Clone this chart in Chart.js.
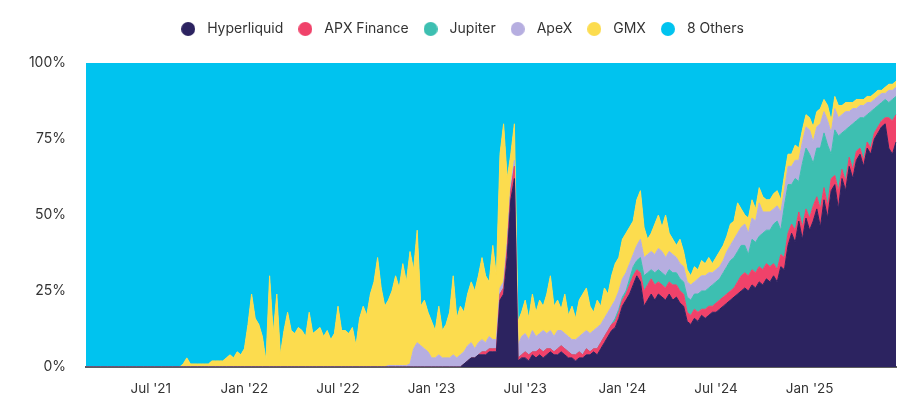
<!DOCTYPE html>
<html>
<head>
<meta charset="utf-8">
<title>Perp DEX volume share</title>
<script src="https://cdn.jsdelivr.net/npm/chart.js@4.4.1/dist/chart.umd.min.js"></script>
<style>
  html, body { margin: 0; padding: 0; background: #fff; }
  #wrap { width: 922px; height: 399px; }
</style>
</head>
<body>
<div id="wrap"><canvas id="share-chart"></canvas></div>
<script>
// weekly points, first one is the week of 2021-02-25
const startWeek = '2021-02-25'

const seriesNames = ['Hyperliquid', 'APX Finance', 'Jupiter', 'ApeX', 'GMX', '8 Others']
const seriesColors = ['#2c2360', '#f0426a', '#3dbfb1', '#b6aee0', '#fcdc4e', '#00c3ef']

const tickDates = ['2021-07-01', '2022-01-01', '2022-07-01', '2023-01-01', '2023-07-01', '2024-01-01', '2024-07-01', '2025-01-01']
const tickLabels = ["Jul '21", "Jan '22", "Jul '22", "Jan '23", "Jul '23", "Jan '24", "Jul '24", "Jan '25"]

// share of weekly volume, %
const hyperliquid = [
  0,0,0,0,0,0,0,0,0,0,0,0,0,0,0, 0,0,0,0,0,0,0,0,0,0,0,0,0,0,0,
  0,0,0,0,0,0,0,0,0,0,0,0,0,0,0, 0,0,0,0,0,0,0,0,0,0,0,0,0,0,0,
  0,0,0,0,0,0,0,0,0,0,0,0,0,0,0, 0,0,0,0,0,0,0,0,0,0,0,0,0,0,0,
  0,0,0,0,0,0,0,0,0,0,0,0,0,0,0,
  1,2,3,3,4,4,4,5,5,5,
  22,24,36,55,62,2,
  3,3,2,4,3,4,3,4,5,4, 4,5,4,3,3,2,3,3,4,4, 5,4,6,8,10,12,13,
  16,20,22,24,27,30,28,20,22,24,
  22,24,23,22,24,22,23,21,20,15,
  14,16,15,17,16,17,18,18,19,20,
  21,22,23,24,25,26,25,27,26,28,
  27,29,28,30,28,33,32,40,44,41,
  48,42,49,45,48,52,46,55,49,58,
  60,52,62,58,66,62,68,70,66,72,
  70,75,77,79,80,72,70,74,
]

const apxFinance = [
  0,0,0,0,0,0,0,0,0,0, 0,0,0,0,0,0,0,0,0,0, 0,0,0,0,0,0,0,0,0,0,
  0,0,0,0,0,0,0,0,0,0, 0,0,0,0,0,0,0,0,0,0, 0,0,0,0,0,0,0,0,0,0,
  0,0,0,0,0,0,0,0,0,0, 0,0,0,0,0,0,0,0,0,0, 0,0,0,0,0,0,0,0,0,0,
  0,0,0,0,0,0,0,0,0,0, 0,0,0,0,0,0,0,0,0,0,
  1,1,1,1,1,
  2,2,3,3,4,1,
  1,2,2,1,2,2,2,2,1,1, 2,2,2,2,1,2,2,1,2,1, 1,2,2,2,2,2,2,
  2,2,2,3,3,2,3,5,5,5,
  5,4,4,4,4,5,4,4,4,3,
  3,3,3,2,3,3,2,3,3,3,
  3,3,3,4,5,5,5,5,5,5,
  5,5,5,4,4,4,4,4,3,4,
  3,4,3,4,5,4,6,4,4,4,
  3,6,3,3,3,3,3,2,2,2,
  2,2,2,2,2,10,11,9,
]

const jupiter = [
  0,0,0,0,0,0,0,0,0,0,0,0,0,0,0,0,0,0,0,0,0,
  0,0,0,0,0,0,0,0,0,0,0,0,0,0,0,0,0,0,0,0,0,
  0,0,0,0,0,0,0,0,0,0,0,0,0,0,0,0,0,0,0,0,0,
  0,0,0,0,0,0,0,0,0,0,0,0,0,0,0,0,0,0,0,0,0,
  0,0,0,0,0,0,0,0,0,0,0,0,0,0,0,0,0,0,0,0,0,
  0,0,0,0,0,0,0,0,0,0,0,0,0,0,0,0,0,0,0,0,0,
  0,0,0,0,0,0,0,0,0,0,0,0,0,0,0,0,0,0,0,0,0,
  1,
  1,1,1,2,3,3,5,5,4,3,
  4,4,4,4,4,4,4,4,4,5,
  5,5,6,6,6,6,7,7,7,8,
  9,10,10,10,10,9,7,10,10,10,
  12,11,12,13,16,8,17,16,13,17,
  10,21,20,21,14,16,20,18,20,8,
  15,18,12,17,10,15,10,10,14,9,
  12,8,7,6,6,5,7,6,
]

const apex = [
  0,0,0,0,0,0,0,0,0,0,0,0,0,0,0,0,0,0,0,0,0,
  0,0,0,0,0,0,0,0,0,0,0,0,0,0,0,0,0,0,0,0,0,
  0,0,0,0,0,0,0,0,0,0,0,0,0,0,0,0,0,0,0,0,0,
  0,0,0,0,0,0,0,0,0,0,0,0,0,0,0,0,0,0,0,0,0,
  0.5,0.5,0.5,0.5,0.5,0.5,1,
  6,8,7,6,5,3,3,4,3,3,3,4,3,4,
  4,5,5,3,4,4,3,4,3,3,
  2,2,2,2,2,4,
  6,6,5,7,5,5,7,5,6,5, 6,5,5,5,5,5,5,7,6,6, 6,7,6,6,6,6,6,
  6,6,6,5,4,5,6,6,6,6,
  6,7,7,6,6,6,5,5,5,5,
  5,4,5,5,5,5,4,4,4,4,
  5,5,6,6,6,7,7,7,7,11,
  7,6,6,5,5,6,5,6,6,6,
  7,7,7,8,7,7,8,7,8,7,
  7,6,6,6,5,5,4,4,4,4,
  3,3,3,3,2,4,3,3,
]

const gmx = [
  0,0,0,0,0,0,0,0,0,0,0,0,0,0,0,0,0,0,0,0,0,0,0,0,0,0,0,
  1,3,1,1,1,1,1,1,2,2, 2,2,3,4,3,5,4,6,14,24, 16,14,10,2,30,11,24,4,12,18, 12,11,13,12,
  10,18,11,12,13,10,12,9,11,20, 12,12,11,13,7,16,20,17,24,28, 36,26,20,
  21.5,24.5,29.5,25.5,33.5,27.5,37,26,37,13, 16,13,12,9,16,9,11,15,26,13, 16,
  13,17,20,19,22,27,22,18,31,21,
  44,52,21,10,12,8,
  8,11,7,12,8,11,8,13,18,10, 10,7,13,7,11,7,12,13,14,9, 6,9,6,10,6,10,12,
  11,13,13,12,11,15,16,10,5,6,
  10,11,8,14,6,5,4,8,5,4,
  3,5,3,5,4,5,3,4,5,5,
  5,7,6,10,6,3,5,6,4,5,
  5,4,4,5,5,4,5,4,4,5,
  4,4,4,4,5,5,5,4,5,4,
  4,4,3,3,3,2,3,2,2,2,
  2,2,2,1,2,2,2,2,
]

const others = [
  100,100,100,100,100,100,100,100,100,100,100,100,100,100,
  100,100,100,100,100,100,100,100,100,100,100,100,100,
  99,97,99,99,99,99,99,99,98,98, 98,98,97,96,97,95,96,94,86,76, 84,86,90,98,70,89,76,96,88,82, 88,89,87,88,
  90,82,89,88,87,90,88,91,89,80, 88,88,89,87,93,84,80,83,76,72, 64,74,80,
  78,75,70,74,66,72,62,68,55,80, 78,82,85,88,80,88,86,82,70,84, 80,
  82,76,72,75,70,64,70,72,60,70,
  30,20,38,30,20,85,
  82,78,84,76,82,78,80,76,70,80, 78,81,76,83,80,84,78,76,74,80, 82,78,80,74,76,70,66,
  64,58,56,54,52,45,42,54,58,56,
  53,50,54,50,56,58,60,58,62,68,
  70,67,68,65,66,64,66,64,62,60,
  57,53,52,46,48,50,51,45,48,41,
  44,45,45,43,42,45,37,30,30,27,
  28,22,17,18,21,16,15,12,14,19,
  11,14,14,13,13,13,12,12,12,11,
  11,10,9,9,8,7,7,6,
]

// ========================= //

const series = [hyperliquid, apxFinance, jupiter, apex, gmx, others]
const DAY = 864e5
const start = Date.parse(startWeek)

const labels = hyperliquid.map((_, i) => new Date(start + i * 7 * DAY).toISOString().slice(0, 10))

// 100% stacked: each week is scaled to its total
const totals = hyperliquid.map((_, i) => series.reduce((sum, arr) => sum + arr[i], 0))
const shares = series.map(arr => arr.map((v, i) => (v / totals[i]) * 100))

const tickAt = new Map()
tickDates.forEach((d, k) => {
  tickAt.set(Math.round((Date.parse(d) - start) / (7 * DAY)), tickLabels[k])
})

const dot = color => {
  const c = document.createElement('canvas')
  c.width = 14
  c.height = 14
  const g = c.getContext('2d')
  g.fillStyle = color
  g.beginPath()
  g.arc(7, 7, 7, 0, Math.PI * 2)
  g.fill()
  return c
}

// more room between legend and plot
const legendGap = {
  id: 'legendGap',
  beforeInit(chart) {
    const fit = chart.legend.fit
    chart.legend.fit = function () {
      fit.call(this)
      this.height += 17
    }
  },
}

const textColor = '#333333'
const font = { family: 'Inter', size: 14 }

new Chart(document.getElementById('share-chart'), {
  type: 'line',
  data: {
    labels,
    datasets: shares.map((data, k) => ({
      label: seriesNames[k],
      data,
      backgroundColor: seriesColors[k],
      borderColor: seriesColors[k],
      borderWidth: 1,
      pointRadius: 0,
      pointHoverRadius: 0,
      pointStyle: dot(seriesColors[k]),
      tension: 0,
      fill: k === 0 ? 'origin' : '-1',
    })),
  },
  options: {
    responsive: true,
    maintainAspectRatio: false,
    animation: false,
    layout: { padding: { top: 12, right: 26, bottom: 0, left: 24 } },
    plugins: {
      legend: {
        position: 'top',
        labels: {
          usePointStyle: true,
          pointStyleWidth: 24,
          boxHeight: 14,
          padding: 10,
          color: textColor,
          font,
        },
      },
      tooltip: { enabled: false },
    },
    scales: {
      x: {
        grid: { display: false, drawTicks: false },
        border: { display: true, color: '#5e5e5e', width: 2 },
        ticks: {
          autoSkip: false,
          maxRotation: 0,
          minRotation: 0,
          padding: 14,
          color: textColor,
          font: { family: 'Inter', size: 13.5 },
          callback: (value, index) => tickAt.get(index) || '',
        },
        afterFit: scale => {
          scale.height = 32
        },
      },
      y: {
        stacked: true,
        min: 0,
        max: 100,
        grid: { display: false, drawTicks: false },
        border: { display: false },
        ticks: {
          stepSize: 25,
          padding: 20,
          color: textColor,
          font,
          callback: value => value + '%',
        },
        afterFit: scale => {
          scale.width = 62
        },
      },
    },
  },
  plugins: [legendGap],
})
</script>
</body>
</html>
